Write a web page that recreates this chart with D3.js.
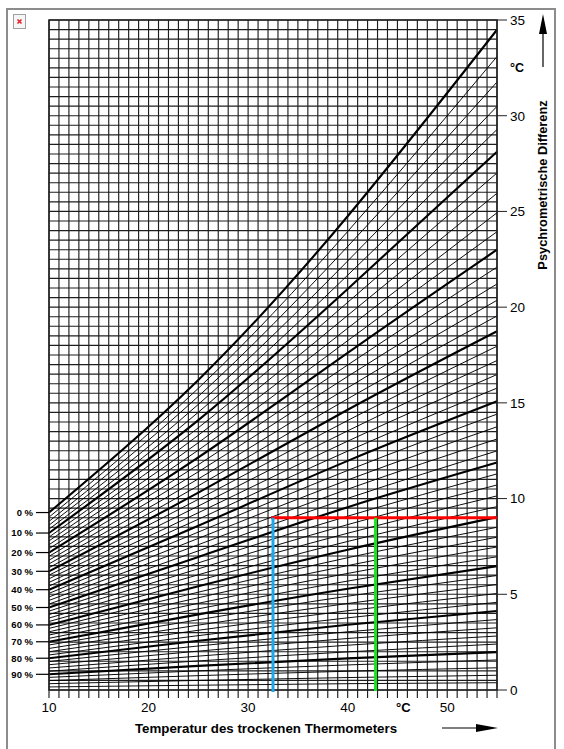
<!DOCTYPE html>
<html>
<head>
<meta charset="utf-8">
<script src="https://cdn.jsdelivr.net/npm/d3@7"></script>
<style>
  html, body { margin: 0; padding: 0; background: #fff; }
  svg { display: block; font-family: "Liberation Sans", Arial, Helvetica, sans-serif; }
</style>
</head>
<body>
<svg id="chart" width="564" height="749"></svg>
<script>
// relative humidity of every curve, %
const humidity = [0, 2, 4, 6, 8, 10, 12, 14, 16, 18, 20, 22, 24, 26, 28, 30, 32, 34, 36, 38, 40,
  42, 44, 46, 48, 50, 52, 54, 56, 58, 60, 62, 64, 66, 68, 70, 72, 74, 76, 78, 80,
  82, 84, 86, 88, 90, 92, 94, 96, 98, 100];

// dry bulb temperatures where the curves were read
const dryTemps = [10, 25, 40, 55];

// psychrometric difference (°C) of each humidity curve at those temperatures
const diffAt10 = [9.27, 9.03, 8.81, 8.61, 8.40, 8.20, 7.99, 7.79, 7.59, 7.38, 7.18, 6.98, 6.78, 6.59, 6.39,
  6.20, 6.00, 5.81, 5.62, 5.43, 5.24, 5.05, 4.86, 4.68, 4.49, 4.31, 4.12, 3.94, 3.76, 3.58, 3.40, 3.22,
  3.04, 2.87, 2.70, 2.52, 2.35, 2.17, 2.00, 1.83, 1.66, 1.49, 1.32, 1.15, 0.98, 0.82, 0.66, 0.49, 0.33, 0.16, 0];
const diffAt25 = [16.20, 15.76, 15.34, 14.92, 14.51, 14.10, 13.70, 13.31, 12.92, 12.53, 12.15, 11.77, 11.40,
  11.03, 10.67, 10.31, 9.96, 9.61, 9.26, 8.92, 8.58, 8.25, 7.92, 7.59, 7.27, 6.95, 6.64, 6.33, 6.02, 5.72,
  5.42, 5.11, 4.82, 4.53, 4.24, 3.95, 3.67, 3.39, 3.12, 2.84, 2.57, 2.30, 2.03, 1.77, 1.52, 1.26, 1.00, 0.75,
  0.50, 0.25, 0];
const diffAt40 = [24.75, 23.95, 23.17, 22.41, 21.67, 20.95, 20.25, 19.57, 18.90, 18.25, 17.61, 16.98, 16.38,
  15.79, 15.21, 14.64, 14.08, 13.54, 13.00, 12.48, 11.97, 11.47, 10.97, 10.49, 10.01, 9.55, 9.08, 8.64, 8.19,
  7.76, 7.33, 6.91, 6.50, 6.09, 5.69, 5.29, 4.90, 4.52, 4.14, 3.77, 3.41, 3.04, 2.69, 2.34, 1.99, 1.65, 1.31,
  0.98, 0.65, 0.33, 0];
const diffAt55 = [34.49, 33.09, 31.76, 30.49, 29.28, 28.12, 27.01, 25.95, 24.93, 23.94, 23.00, 22.09, 21.21,
  20.36, 19.54, 18.74, 17.96, 17.21, 16.48, 15.77, 15.08, 14.41, 13.75, 13.11, 12.49, 11.88, 11.29, 10.71,
  10.14, 9.58, 9.03, 8.50, 7.98, 7.47, 6.96, 6.47, 5.98, 5.51, 5.04, 4.58, 4.13, 3.68, 3.25, 2.82, 2.40, 1.98,
  1.57, 1.16, 0.77, 0.38, 0];

// humidity curves labelled on the left
const labelledHumidity = [0, 10, 20, 30, 40, 50, 60, 70, 80, 90];

// tick labels
const xTicks = [10, 20, 30, 40, 50];
const yTicks = [0, 5, 10, 15, 20, 25, 30, 35];

// example reading drawn in colour
const readingDiff = 9;
const readingStart = 32.3;
const wetReading = 32.5;
const dryReading = 42.8;

const svg = d3.select("#chart");

const x = d3.scaleLinear().domain([10, 55]).range([49, 497]);
const y = d3.scaleLinear().domain([0, 35]).range([690, 20]);

// outer frame and broken image icon
svg.append("rect")
  .attr("x", 7).attr("y", 9)
  .attr("width", 548).attr("height", 760)
  .attr("fill", "none")
  .attr("stroke", "#8c8c8c")
  .attr("stroke-width", 2);

svg.append("rect")
  .attr("x", 13.5).attr("y", 14.5)
  .attr("width", 12).attr("height", 14)
  .attr("fill", "#f6f6f6")
  .attr("stroke", "#a0a0a0");
svg.append("path")
  .attr("d", "M17.5,19.5L21.5,23.5M21.5,19.5L17.5,23.5")
  .attr("stroke", "#e8202a")
  .attr("stroke-width", 1.6);

// grid
const grid = svg.append("g").attr("stroke", "#1e1e1e").attr("stroke-width", 1.15);

grid.selectAll("line.v")
  .data(d3.range(10, 56, 1))
  .enter().append("line")
  .attr("class", "v")
  .attr("x1", d => x(d)).attr("x2", d => x(d))
  .attr("y1", y(35)).attr("y2", y(0) + 8);

grid.selectAll("line.h")
  .data(d3.range(0, 35.01, 0.5))
  .enter().append("line")
  .attr("class", "h")
  .attr("x1", x(10)).attr("x2", x(55))
  .attr("y1", d => y(d)).attr("y2", d => y(d));

// right axis
const yAxis = svg.append("g");
yAxis.selectAll("line")
  .data(yTicks)
  .enter().append("line")
  .attr("x1", x(55)).attr("x2", x(55) + 10)
  .attr("y1", d => y(d)).attr("y2", d => y(d))
  .attr("stroke", "#222");
yAxis.selectAll("text")
  .data(yTicks)
  .enter().append("text")
  .attr("x", x(55) + 13)
  .attr("y", d => y(d))
  .attr("dy", "0.36em")
  .attr("font-size", 13.5)
  .text(d => d);
svg.append("text")
  .attr("x", x(55) + 13)
  .attr("y", y(32.5))
  .attr("dy", "0.36em")
  .attr("font-size", 12.5)
  .attr("font-weight", "bold")
  .text("°C");

// bottom axis
svg.append("g").selectAll("text")
  .data(xTicks)
  .enter().append("text")
  .attr("x", d => x(d))
  .attr("y", 712)
  .attr("text-anchor", "middle")
  .attr("font-size", 13.5)
  .text(d => d);
svg.append("text")
  .attr("x", x(45.6))
  .attr("y", 712)
  .attr("text-anchor", "middle")
  .attr("font-size", 13)
  .attr("font-weight", "bold")
  .text("°C");

// humidity curves
const line = d3.line()
  .x(d => x(d.t))
  .y(d => y(d.v))
  .curve(d3.curveNatural);

const curves = humidity.map((h, i) => ({
  h: h,
  points: dryTemps.map((t, j) => ({ t: t, v: [diffAt10, diffAt25, diffAt40, diffAt55][j][i] }))
})).filter(c => c.h < 100);

svg.append("g").selectAll("path")
  .data(curves)
  .enter().append("path")
  .attr("d", d => line(d.points))
  .attr("fill", "none")
  .attr("stroke", "#000")
  .attr("stroke-width", d => d.h % 10 === 0 ? 2.1 : 0.95);

// plot border
svg.append("rect")
  .attr("x", x(10)).attr("y", y(35))
  .attr("width", x(55) - x(10)).attr("height", y(0) - y(35))
  .attr("fill", "none")
  .attr("stroke", "#222")
  .attr("stroke-width", 1.5);

// humidity labels on the left
const labels = svg.append("g");
labelledHumidity.forEach(h => {
  const v = diffAt10[humidity.indexOf(h)];
  labels.append("line")
    .attr("x1", 36).attr("x2", x(10))
    .attr("y1", y(v)).attr("y2", y(v))
    .attr("stroke", "#000").attr("stroke-width", 1.2);
  labels.append("text")
    .attr("x", 33)
    .attr("y", y(v))
    .attr("dy", "0.35em")
    .attr("text-anchor", "end")
    .attr("font-size", 9.5)
    .attr("font-weight", "bold")
    .text(h + " %");
});

// example reading
svg.append("line")
  .attr("x1", x(readingStart)).attr("x2", x(55))
  .attr("y1", y(readingDiff)).attr("y2", y(readingDiff))
  .attr("stroke", "#ff0000").attr("stroke-width", 3);
svg.append("line")
  .attr("x1", x(wetReading)).attr("x2", x(wetReading))
  .attr("y1", y(readingDiff)).attr("y2", y(0) + 2)
  .attr("stroke", "#1ea8ec").attr("stroke-width", 3);
svg.append("line")
  .attr("x1", x(dryReading)).attr("x2", x(dryReading))
  .attr("y1", y(readingDiff)).attr("y2", y(0) + 1)
  .attr("stroke", "#19e619").attr("stroke-width", 3);

// axis titles with arrows
svg.append("text")
  .attr("x", 266)
  .attr("y", 733)
  .attr("text-anchor", "middle")
  .attr("font-size", 13.3)
  .attr("font-weight", "bold")
  .text("Temperatur des trockenen Thermometers");
svg.append("line")
  .attr("x1", 442).attr("x2", 480)
  .attr("y1", 728).attr("y2", 728)
  .attr("stroke", "#000").attr("stroke-width", 1.2);
svg.append("path")
  .attr("d", "M476,724L498,728L476,732Z")
  .attr("fill", "#000");

svg.append("text")
  .attr("transform", "translate(547,185) rotate(-90)")
  .attr("text-anchor", "middle")
  .attr("font-size", 12.8)
  .attr("font-weight", "bold")
  .text("Psychrometrische Differenz");
svg.append("line")
  .attr("x1", 543).attr("x2", 543)
  .attr("y1", 67).attr("y2", 30)
  .attr("stroke", "#000").attr("stroke-width", 1.2);
svg.append("path")
  .attr("d", "M539,34L543,14L547,34Z")
  .attr("fill", "#000");
</script>
</body>
</html>
